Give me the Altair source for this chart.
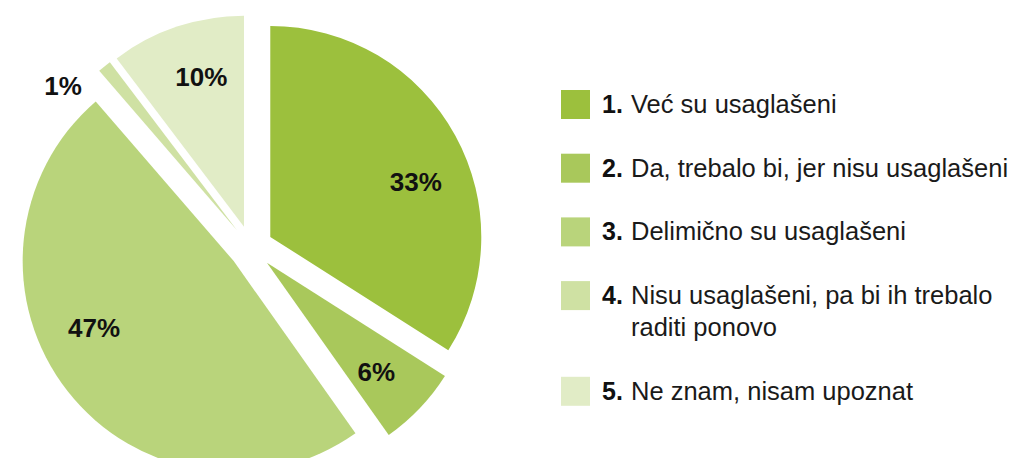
import altair as alt
import pandas as pd

categories = [
    "Već su usaglašeni",
    "Da, trebalo bi, jer nisu usaglašeni",
    "Delimično su usaglašeni",
    "Nisu usaglašeni, pa bi ih trebalo\nraditi ponovo",
    "Ne znam, nisam upoznat",
]
numbers = ["1.", "2.", "3.", "4.", "5."]
values = [33, 6, 47, 1, 10]
colors = ["#9cc03d", "#a9c85b", "#b9d47b", "#cfe1a3", "#e1ecc6"]

df = pd.DataFrame({
    "num": numbers,
    "cat": categories,
    "value": values,
    "order": list(range(len(values))),
})

FONT = "Liberation Sans"
CX, CY, R, EXPLODE = 243, 239.5, 211, 22

color_scale = alt.Scale(domain=categories, range=colors)

base = (
    alt.Chart(df)
    .transform_joinaggregate(total="sum(value)")
    .transform_window(cum="sum(value)", sort=[alt.SortField("order")], frame=[None, 0])
    .transform_calculate(
        f0="(datum.cum - datum.value) / datum.total",
        f1="datum.cum / datum.total",
        mid="(datum.cum - datum.value / 2) / datum.total * 2 * PI",
        span="datum.value / datum.total * 2 * PI",
    )
    .transform_calculate(
        cx=f"{CX} + {EXPLODE} * sin(datum.mid)",
        cy=f"{CY} - {EXPLODE} * cos(datum.mid)",
        inside="datum.value >= 3",
    )
    .transform_calculate(
        lr=f"datum.inside ? {R} * 0.735 : {R} * 1.07",
        la="datum.inside ? datum.mid + 0.07 * datum.span : datum.mid - 0.2",
    )
    .transform_calculate(
        lx="datum.cx + datum.lr * sin(datum.la)",
        ly="datum.cy - datum.lr * cos(datum.la)",
        pct="datum.value + '%'",
    )
)

arcs = base.mark_arc(radius=R).encode(
    theta=alt.Theta("f0:Q", scale=alt.Scale(domain=[0, 1], range=[0, 6.283185307])),
    theta2="f1:Q",
    x=alt.X("cx:Q", scale=None, axis=None),
    y=alt.Y("cy:Q", scale=None, axis=None),
    color=alt.Color("cat:N", scale=color_scale, legend=None),
)

pie_labels = base.mark_text(
    font=FONT, fontSize=26, fontWeight="bold", color="#111111",
    align="center", baseline="middle",
).encode(
    x=alt.X("lx:Q", scale=None, axis=None),
    y=alt.Y("ly:Q", scale=None, axis=None),
    text="pct:N",
)

# Legend built from the same categories
leg = (
    alt.Chart(df)
    .transform_calculate(more="indexof(datum.cat, '\\n') >= 0 ? 1 : 0")
    .transform_window(prev="sum(more)", sort=[alt.SortField("order")], frame=[None, 0])
    .transform_calculate(
        extra_lines="datum.prev - datum.more",
    )
    .transform_calculate(
        sy="96.5 + 63.7 * datum.order + 32 * datum.extra_lines",
        ty="105 + 63.7 * datum.order + 32 * datum.extra_lines",
        sx="567.5",
        nx="594",
        tx="623",
    )
)

leg_sq = leg.mark_square(size=841, opacity=1).encode(
    x=alt.X("sx:Q", scale=None, axis=None),
    y=alt.Y("sy:Q", scale=None, axis=None),
    color=alt.Color("cat:N", scale=color_scale, legend=None),
)

leg_num = leg.mark_text(
    font=FONT, fontSize=25, fontWeight="bold", color="#111111",
    align="left", baseline="alphabetic",
).encode(
    x=alt.X("nx:Q", scale=None, axis=None),
    y=alt.Y("ty:Q", scale=None, axis=None),
    text="num:N",
)

leg_txt = leg.mark_text(
    font=FONT, fontSize=25.5, color="#1a1a1a",
    align="left", baseline="alphabetic", lineBreak="\n", lineHeight=32,
).encode(
    x=alt.X("tx:Q", scale=None, axis=None),
    y=alt.Y("ty:Q", scale=None, axis=None),
    text="cat:N",
)

chart = (
    alt.layer(arcs, pie_labels, leg_sq, leg_num, leg_txt)
    .properties(width=1012, height=450, padding=0,
                autosize=alt.AutoSizeParams(type="none"), background="white")
    .configure_view(strokeWidth=0)
)

chart.save("out.html", embed_options={"renderer": "svg", "actions": False})
